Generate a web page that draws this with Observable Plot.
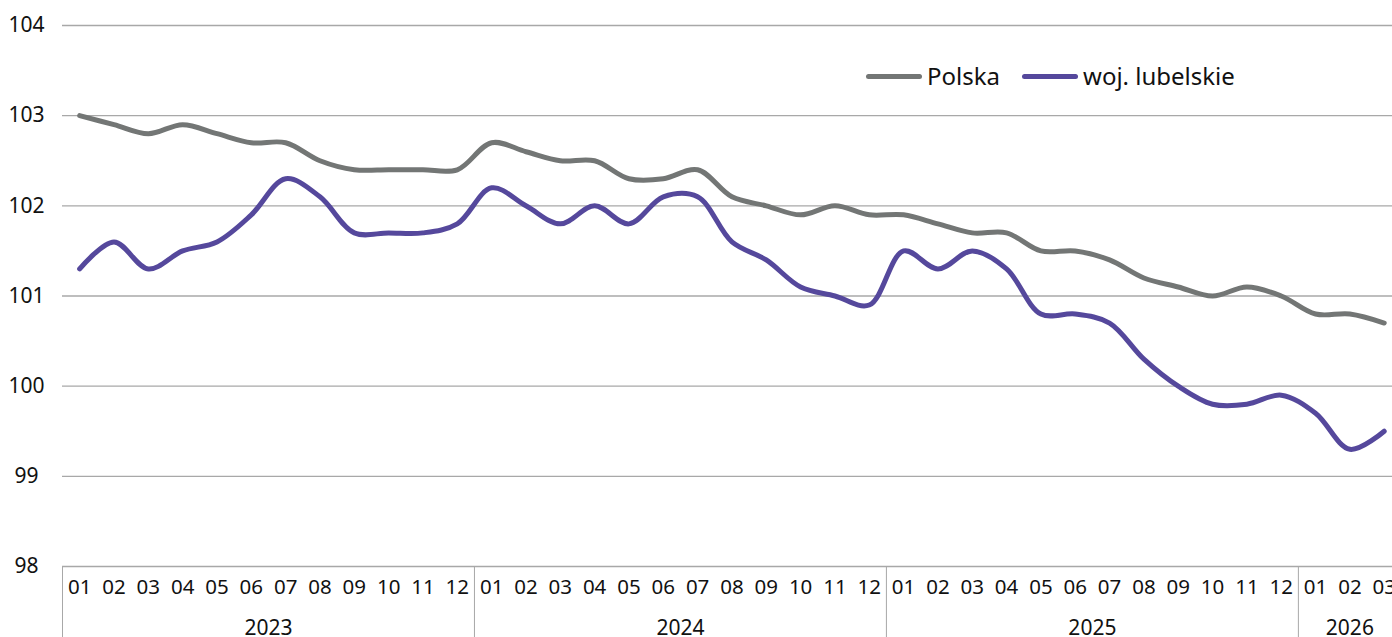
<!DOCTYPE html>
<html><head><meta charset="utf-8">
<script src="https://cdn.jsdelivr.net/npm/d3@7"></script>
<script src="https://cdn.jsdelivr.net/npm/@observablehq/plot@0.6"></script>
<style>
html,body{margin:0;padding:0;background:#fff;overflow:hidden;}
#wrap{position:relative;width:1392px;height:637px;font-family:"Noto Sans",sans-serif;overflow:hidden;}
.legend{position:absolute;left:866px;top:60px;display:flex;align-items:center;font-size:24px;color:#111;line-height:32px;}
.legend .sw{display:inline-block;width:56px;height:5px;border-radius:3px;margin-right:5px;}
.legend .item{display:flex;align-items:center;margin-right:22px;}
</style></head><body><div id="wrap"></div>
<script>
const years = ["2023", "2024", "2025", "2026"];
const monthsPerYear = [12, 12, 12, 3];
const monthLabels = ["01","02","03","04","05","06","07","08","09","10","11","12"];
const yTicks = [98, 99, 100, 101, 102, 103, 104];
const seriesNames = ["Polska", "woj. lubelskie"];
const seriesColors = ["#737675", "#55489c"];

const polska = [
  103.0, 102.9, 102.8, 102.9, 102.8, 102.7, 102.7, 102.5, 102.4, 102.4, 102.4, 102.4,
  102.7, 102.6, 102.5, 102.5, 102.3, 102.3, 102.4, 102.1, 102.0, 101.9, 102.0, 101.9,
  101.9, 101.8, 101.7, 101.7, 101.5, 101.5, 101.4, 101.2, 101.1, 101.0, 101.1, 101.0,
  100.8, 100.8, 100.7
];
const lubelskie = [
  101.3, 101.6, 101.3, 101.5, 101.6, 101.9, 102.3, 102.1, 101.7, 101.7, 101.7, 101.8,
  102.2, 102.0, 101.8, 102.0, 101.8, 102.1, 102.1, 101.6, 101.4, 101.1, 101.0, 100.9,
  101.5, 101.3, 101.5, 101.3, 100.8, 100.8, 100.7, 100.3, 100.0, 99.8, 99.8, 99.9,
  99.7, 99.3, 99.5
];

// build periods
const periods = [];
const yearGroups = [];
const boundaries = [];
let idx = 0;
years.forEach((yr, k) => {
  const start = idx;
  boundaries.push(start - 0.5);
  for (let m = 0; m < monthsPerYear[k]; m++) {
    periods.push({i: idx, month: monthLabels[m], year: yr});
    idx++;
  }
  yearGroups.push({year: yr, center: (start + idx - 1) / 2});
});
const n = periods.length;
boundaries.push(n - 0.5);

const data = [];
[polska, lubelskie].forEach((arr, s) => {
  arr.forEach((v, i) => data.push({i, value: v, series: seriesNames[s]}));
});

const bandW = 34.33;
const chart = Plot.plot({
  width: 1392,
  height: 637,
  marginLeft: 62,
  marginRight: 0,
  marginTop: 25,
  marginBottom: 71,
  style: {fontFamily: "'Noto Sans', sans-serif", fontSize: "21px", color: "#111", background: "#fff", overflow: "hidden"},
  x: {type: "linear", domain: [-0.5, n - 0.5], range: [62, 62 + n * bandW]},
  y: {domain: [98, 104]},
  color: {domain: seriesNames, range: seriesColors},
  marks: [
    Plot.gridY(yTicks, {stroke: "#a8a8a8", strokeOpacity: 1, strokeWidth: 1.3}),
    Plot.axisY(yTicks, {tickSize: 0, tickPadding: 36, textAnchor: "middle", label: null, fontSize: 21, tickFormat: d => String(d)}),
    Plot.axisX(boundaries, {anchor: "bottom", tickSize: 71, tickFormat: () => "", stroke: "#a8a8a8", strokeOpacity: 1, label: null}),
    Plot.text(periods, {x: "i", text: "month", frameAnchor: "bottom", dy: 27, fontSize: 20.5, fill: "#111"}),
    Plot.text(yearGroups, {x: "center", text: "year", frameAnchor: "bottom", dy: 68, fontSize: 21, fill: "#111"}),
    Plot.line(data, {x: "i", y: "value", z: "series", stroke: "series", curve: "catmull-rom", strokeWidth: 5, strokeLinecap: "round", strokeLinejoin: "round"})
  ]
});
const wrap = document.getElementById("wrap");
wrap.appendChild(chart);

const legend = document.createElement("div");
legend.className = "legend";
seriesNames.forEach((name, k) => {
  const item = document.createElement("div");
  item.className = "item";
  const sw = document.createElement("span");
  sw.className = "sw";
  sw.style.background = seriesColors[k];
  const t = document.createElement("span");
  t.textContent = name;
  item.appendChild(sw);
  item.appendChild(t);
  legend.appendChild(item);
});
wrap.appendChild(legend);
</script>
</body></html>
